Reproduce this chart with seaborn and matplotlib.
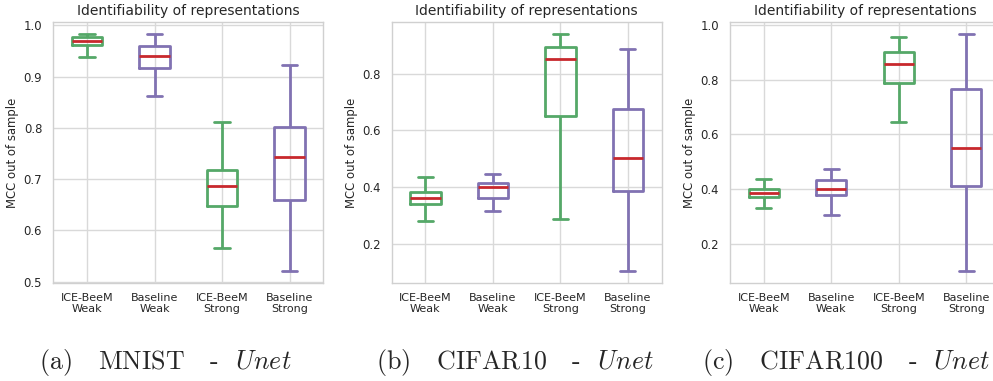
import matplotlib
matplotlib.use("Agg")
import matplotlib.pyplot as plt
import pandas as pd
import seaborn as sns

# Box categories along the x axis
labels = ["ICE-BeeM\nWeak", "Baseline\nWeak", "ICE-BeeM\nStrong", "Baseline\nStrong"]

# MCC summaries per category: [min, Q1, median, Q3, max]
mnist_mcc = [
    [0.938, 0.962, 0.969, 0.977, 0.984],
    [0.862, 0.916, 0.941, 0.960, 0.984],
    [0.565, 0.648, 0.687, 0.718, 0.812],
    [0.520, 0.659, 0.744, 0.802, 0.922],
]
cifar10_mcc = [
    [0.280, 0.339, 0.361, 0.381, 0.437],
    [0.316, 0.362, 0.400, 0.416, 0.446],
    [0.288, 0.650, 0.853, 0.893, 0.942],
    [0.102, 0.386, 0.503, 0.676, 0.888],
]
cifar100_mcc = [
    [0.329, 0.370, 0.387, 0.399, 0.435],
    [0.305, 0.377, 0.400, 0.433, 0.472],
    [0.646, 0.789, 0.859, 0.901, 0.955],
    [0.098, 0.411, 0.549, 0.766, 0.969],
]

captions = [
    r"(a)   MNIST   -  $\mathit{Unet}$",
    r"(b)   CIFAR10   -  $\mathit{Unet}$",
    r"(c)   CIFAR100   -  $\mathit{Unet}$",
]
yticks = [
    [0.5, 0.6, 0.7, 0.8, 0.9, 1.0],
    [0.2, 0.4, 0.6, 0.8],
    [0.2, 0.4, 0.6, 0.8, 1.0],
]

GREEN = "#55a868"
PURPLE = "#8172b2"
RED = "#c8282d"
palette = [GREEN, PURPLE, GREEN, PURPLE]

sns.set_theme(style="whitegrid")
plt.rcParams["mathtext.fontset"] = "cm"
plt.rcParams["font.family"] = ["DejaVu Sans"]

W, H = 993, 381
fig = plt.figure(figsize=(W / 100, H / 100), dpi=100)

# axes boxes in pixels: left, right
panel_px = [(53.3, 323.3), (391.7, 661.5), (730.0, 1000.0)]
top_px, bottom_px = 21.7, 283.3
caption_x = [165, 515, 846]


def to_frame(summary):
    rows = []
    for lab, vals in zip(labels, summary):
        for v in vals:
            rows.append({"group": lab, "mcc": v})
    return pd.DataFrame(rows)


for i, summary in enumerate([mnist_mcc, cifar10_mcc, cifar100_mcc]):
    l, r = panel_px[i]
    ax = fig.add_axes([l / W, 1 - bottom_px / H, (r - l) / W, (bottom_px - top_px) / H])
    df = to_frame(summary)
    sns.boxplot(
        data=df, x="group", y="mcc", hue="group", order=labels, hue_order=labels,
        palette=palette, fill=False, width=0.45, whis=(0, 100), linewidth=2.0,
        legend=False, ax=ax,
        medianprops={"color": RED, "linewidth": 2.0},
    )
    ax.set_yticks(yticks[i])
    ax.set_xlim(-0.5, 3.5)
    ax.set_xlabel("")
    ax.set_ylabel("MCC out of sample", fontsize=8.4, labelpad=3)
    ax.set_title("Identifiability of representations", fontsize=10, pad=5)
    ax.tick_params(axis="y", labelsize=8.4, pad=2)
    ax.tick_params(axis="x", labelsize=8.0, pad=1)
    for t in ax.get_xticklabels():
        t.set_linespacing(1.1)
    ax.grid(True, axis="both", color="#d9d9d9", linewidth=1.0)
    for s in ax.spines.values():
        s.set_color("#d0d0d0")
        s.set_linewidth(1.0)
    fig.text(caption_x[i] / W, 1 - 369.3 / H, captions[i], fontsize=18.7,
             family="cmr10", ha="center", va="baseline")

fig.savefig("out.png", dpi=100)
